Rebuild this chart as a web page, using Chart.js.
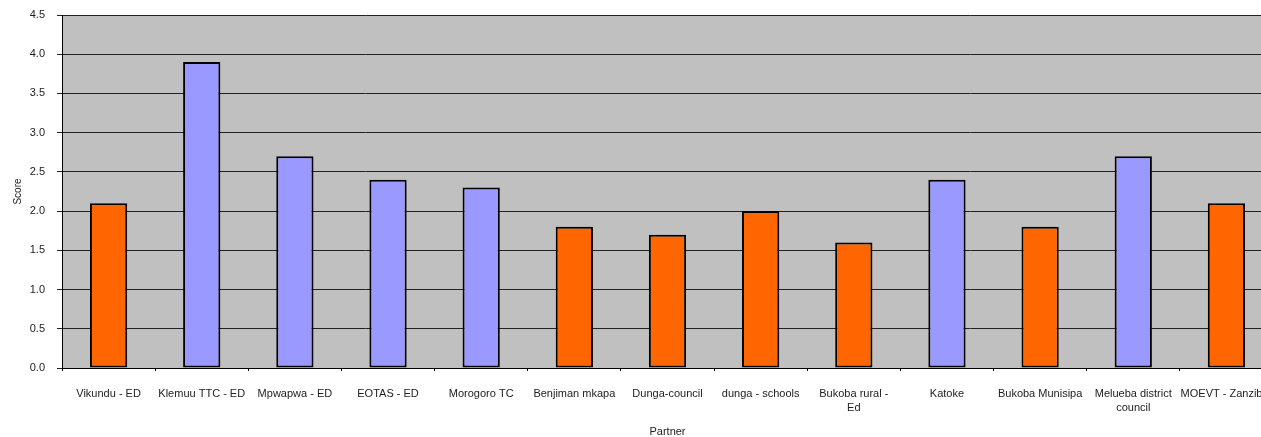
<!DOCTYPE html>
<html>
<head>
<meta charset="utf-8">
<script src="https://cdn.jsdelivr.net/npm/chart.js@4"></script>
<style>
  html, body { margin: 0; padding: 0; background: #fff; overflow: hidden; width: 1261px; height: 437px; }
  #grafico { display: block; }
</style>
</head>
<body>
<canvas id="grafico" width="1274" height="445"></canvas>
<script>
// Dados do gráfico
const partners = [
  "Vikundu - ED", "Klemuu TTC - ED", "Mpwapwa - ED", "EOTAS - ED", "Morogoro TC",
  "Benjiman mkapa", "Dunga-council", "dunga - schools", ["Bukoba rural -", "Ed"],
  "Katoke", "Bukoba Munisipa", ["Melueba district", "council"], "MOEVT - Zanzibar"
];
const scores = [2.1, 3.9, 2.7, 2.4, 2.3, 1.8, 1.7, 2.0, 1.6, 2.4, 1.8, 2.7, 2.1];
const groups = [1, 2, 2, 2, 2, 1, 1, 1, 1, 2, 1, 2, 1];
const yTicks = [0, 0.5, 1, 1.5, 2, 2.5, 3, 3.5, 4, 4.5];

const cores = { 1: "#FF6600", 2: "#9999FF" };
const fonte = "'Liberation Sans', Arial, sans-serif";

// fundo cinza da área de plotagem
const fundoPlot = {
  id: "fundoPlot",
  beforeDraw(chart) {
    const { ctx, chartArea: a } = chart;
    ctx.save();
    ctx.fillStyle = "#C0C0C0";
    ctx.fillRect(a.left, a.top, a.right - a.left, a.bottom - a.top);
    ctx.restore();
  }
};

function criarGrafico() {
  const ctx = document.getElementById("grafico").getContext("2d");
  new Chart(ctx, {
    type: "bar",
    data: {
      labels: partners,
      datasets: [{
        label: "Score",
        data: scores,
        backgroundColor: groups.map(g => cores[g]),
        borderColor: "#000",
        borderWidth: 2,
        borderSkipped: false,
        categoryPercentage: 1,
        barPercentage: 0.4
      }]
    },
    options: {
      responsive: false,
      animation: false,
      layout: { padding: { top: 15, right: 1, left: 0, bottom: 0 } },
      plugins: {
        legend: { display: false },
        tooltip: { enabled: false }
      },
      scales: {
        x: {
          // altura fixa e sem recuo lateral por causa dos rótulos
          afterFit: s => { s.height = 77; s.paddingLeft = 0; s.paddingRight = 0; },
          grid: {
            offset: true,
            drawOnChartArea: false,
            drawTicks: true,
            tickLength: 3,
            color: "#000"
          },
          border: { display: true, color: "#000", width: 1 },
          ticks: {
            autoSkip: false,
            maxRotation: 0,
            minRotation: 0,
            padding: 16,
            color: "#222",
            font: { family: fonte, size: 11, lineHeight: 1.25 }
          },
          title: {
            display: true,
            text: "Partner",
            color: "#222",
            padding: { top: 0, bottom: 6 },
            font: { family: fonte, size: 11 }
          }
        },
        y: {
          min: 0,
          max: 4.5,
          afterFit: s => { s.width = 62; s.paddingTop = 0; s.paddingBottom = 0; },
          afterBuildTicks: s => { s.ticks = yTicks.map(v => ({ value: v })); },
          grid: { color: "#222", lineWidth: 1, tickLength: 5 },
          border: { display: true, color: "#000", width: 1 },
          ticks: {
            padding: 12,
            color: "#222",
            font: { family: fonte, size: 11 },
            callback: v => Number(v).toFixed(1)
          },
          title: {
            display: true,
            text: "Score",
            color: "#222",
            padding: { top: 12, bottom: 0 },
            font: { family: fonte, size: 10 }
          }
        }
      }
    },
    plugins: [fundoPlot]
  });
}

document.addEventListener("DOMContentLoaded", criarGrafico);
</script>
</body>
</html>
